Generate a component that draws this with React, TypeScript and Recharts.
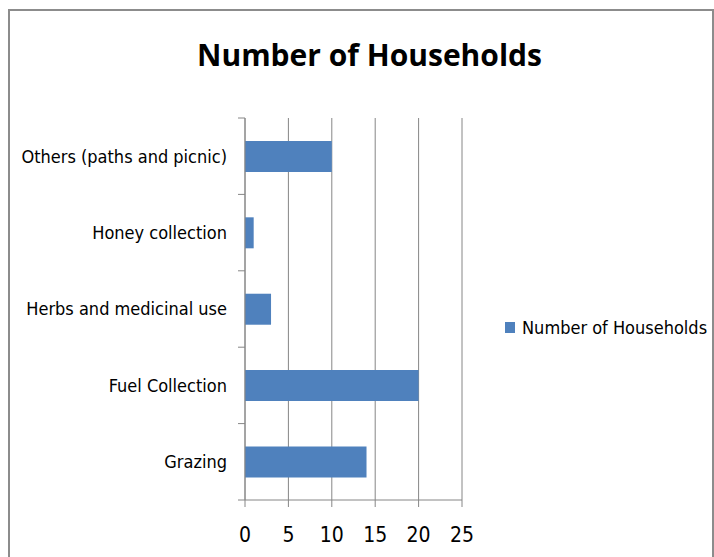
import { BarChart, Bar, XAxis, YAxis, CartesianGrid, Legend } from "recharts";

const categories = [
  "Others (paths and picnic)",
  "Honey collection",
  "Herbs and medicinal use",
  "Fuel Collection",
  "Grazing",
];
const households = [10, 1, 3, 20, 14];
const xTicks = [0, 5, 10, 15, 20, 25];

const seriesName = "Number of Households";
const barColor = "#4F81BD";
const gridColor = "#868686";
const font = "'DejaVu Sans Condensed'";
const TICK_SIZE = 7;
const TICK_MARGIN = 11;

const data = categories.map((name, i) => ({ name, value: households[i] }));

// Category label plus Excel-style tick marks on the band edges
function CategoryTick(props: any) {
  const { x, y, payload, index, visibleTicksCount } = props;
  const half = payload.offset || 0;
  const lx1 = x + TICK_MARGIN;
  const lx2 = lx1 + TICK_SIZE;
  const last = index === visibleTicksCount - 1;
  return (
    <g>
      <line x1={lx1} x2={lx2} y1={y - half} y2={y - half} stroke={gridColor} />
      {last && <line x1={lx1} x2={lx2} y1={y + half} y2={y + half} stroke={gridColor} />}
      <text x={x} y={y} dy="0.355em" textAnchor="end" fill="#000" fontFamily={font} fontSize={18}>
        {payload.value}
      </text>
    </g>
  );
}

function LegendBox() {
  return (
    <div style={{ display: "flex", alignItems: "center", whiteSpace: "nowrap", fontFamily: font, fontSize: 18, color: "#000" }}>
      <span style={{ width: 10, height: 11, background: barColor, marginRight: 7, display: "inline-block" }} />
      {seriesName}
    </div>
  );
}

export default function App() {
  return (
    <div style={{ position: "absolute", left: 0, top: 0, width: 714, height: 557, overflow: "hidden", background: "#fff" }}>
      <div
        style={{
          position: "absolute",
          left: 8,
          top: 9,
          width: 702,
          height: 600,
          border: "2px solid #8c8c8c",
        }}
      />
      <div
        style={{
          position: "absolute",
          left: 0,
          width: 739,
          top: 34,
          textAlign: "center",
          fontFamily: "'Open Sans'",
          fontWeight: "bold",
          fontSize: 30,
          color: "#000",
        }}
      >
        {seriesName}
      </div>
      <div style={{ position: "absolute", left: 0, top: 0 }}>
        <BarChart
          width={714}
          height={557}
          data={data}
          layout="vertical"
          margin={{ top: 118, right: 47, bottom: 0, left: 0 }}
          barCategoryGap="30%"
        >
          <CartesianGrid horizontal={false} stroke={gridColor} />
          <XAxis
            type="number"
            domain={[0, 25]}
            ticks={xTicks}
            height={57}
            stroke={gridColor}
            tickSize={TICK_SIZE}
            tick={{ fill: "#000", fontFamily: font, fontSize: 21 }}
            tickMargin={20}
          />
          <YAxis
            type="category"
            dataKey="name"
            width={245}
            stroke={gridColor}
            tickLine={false}
            tickSize={TICK_SIZE}
            tickMargin={TICK_MARGIN}
            tick={<CategoryTick />}
          />
          <Legend
            layout="vertical"
            align="right"
            verticalAlign="middle"
            wrapperStyle={{ left: 505, top: 317, width: 205 }}
            content={() => <LegendBox />}
          />
          <Bar dataKey="value" name={seriesName} fill={barColor} isAnimationActive={false} />
        </BarChart>
      </div>
    </div>
  );
}
